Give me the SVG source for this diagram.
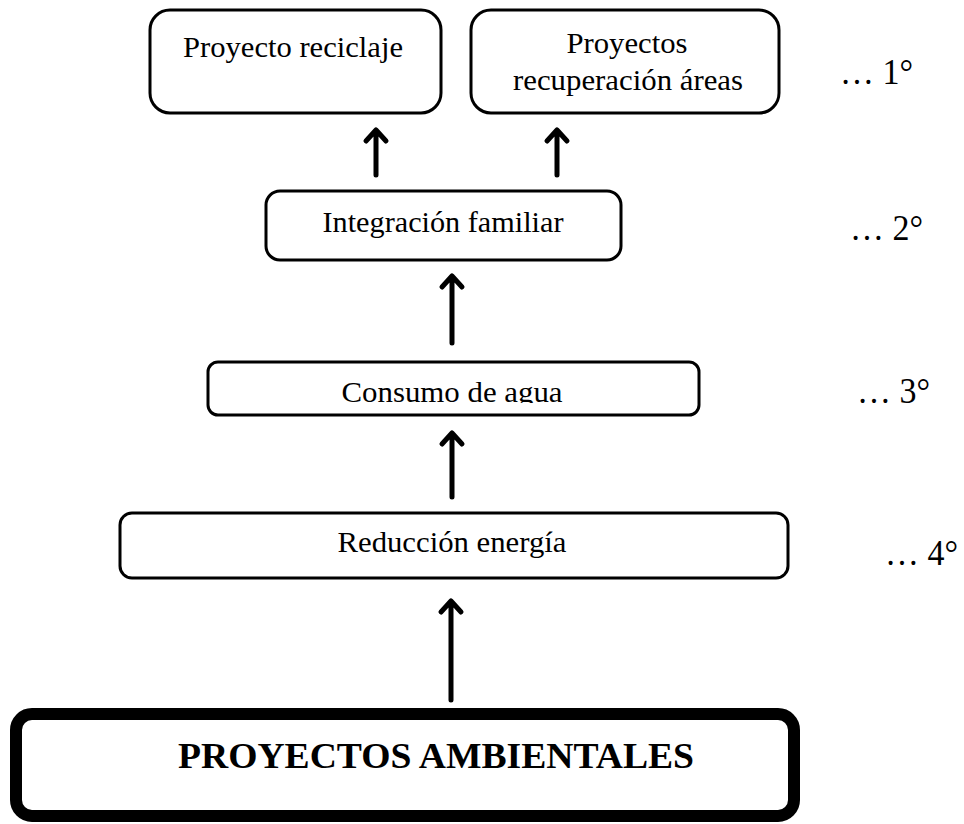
<svg xmlns="http://www.w3.org/2000/svg" width="964" height="824" viewBox="0 0 964 824">
<style>
.box{fill:#fff;stroke:#000;stroke-width:3}
.big{fill:#fff;stroke:#000;stroke-width:12}
.t{font-family:"Liberation Serif","Times New Roman",serif;font-size:30px;fill:#000;text-anchor:middle}
.b{font-family:"Liberation Serif","Times New Roman",serif;font-size:35px;font-weight:bold;fill:#000;text-anchor:middle}
.lvl{font-family:"Liberation Serif","Times New Roman",serif;font-size:36px;fill:#000}
.arr{fill:none;stroke:#000;stroke-width:5;stroke-linecap:round;stroke-linejoin:round}
</style>
<defs>
<clipPath id="clipC"><rect x="208" y="362" width="491" height="41"/></clipPath>
</defs>
<rect width="964" height="824" fill="#fff"/>
<g id="connectors">
<path class="arr" d="M376,175 L376,130 M366,141 L376,130 L386,141"/>
<path class="arr" d="M557,175 L557,130 M547,141 L557,130 L567,141"/>
<path class="arr" d="M452,343 L452,276 M442,287 L452,276 L462,287"/>
<path class="arr" d="M452,497 L452,433 M442,444 L452,433 L462,444"/>
<path class="arr" d="M451,700 L451,601 M441,612 L451,601 L461,612"/>
</g>
<g id="n1">
<rect class="box" x="150" y="10" width="291" height="103" rx="20"/>
<text class="t" x="293" y="57" textLength="220" lengthAdjust="spacingAndGlyphs">Proyecto reciclaje</text>
</g>
<g id="n2">
<rect class="box" x="471" y="10" width="308" height="103" rx="20"/>
<text class="t" x="627" y="53" textLength="121" lengthAdjust="spacingAndGlyphs">Proyectos</text>
<text class="t" x="628" y="90" textLength="230" lengthAdjust="spacingAndGlyphs">recuperación áreas</text>
</g>
<g id="n3">
<rect class="box" x="266" y="191" width="355" height="69" rx="14"/>
<text class="t" x="443" y="232" textLength="241" lengthAdjust="spacingAndGlyphs">Integración familiar</text>
</g>
<g id="n4">
<rect class="box" x="208" y="362" width="491" height="53" rx="10"/>
<text class="t" x="452" y="402" textLength="221" lengthAdjust="spacingAndGlyphs" clip-path="url(#clipC)">Consumo de agua</text>
</g>
<g id="n5">
<rect class="box" x="120" y="513" width="668" height="65" rx="12"/>
<text class="t" x="452" y="552" textLength="229" lengthAdjust="spacingAndGlyphs">Reducción energía</text>
</g>
<g id="n6">
<rect class="big" x="16" y="714" width="778" height="102" rx="16"/>
<text class="b" x="436" y="768" textLength="516" lengthAdjust="spacingAndGlyphs">PROYECTOS AMBIENTALES</text>
</g>
<g id="levels">
<text class="lvl" x="840" y="84" textLength="73" lengthAdjust="spacingAndGlyphs">… 1°</text>
<text class="lvl" x="850" y="240" textLength="73" lengthAdjust="spacingAndGlyphs">… 2°</text>
<text class="lvl" x="857" y="403" textLength="73" lengthAdjust="spacingAndGlyphs">… 3°</text>
<text class="lvl" x="885" y="565" textLength="73" lengthAdjust="spacingAndGlyphs">… 4°</text>
</g>
</svg>
